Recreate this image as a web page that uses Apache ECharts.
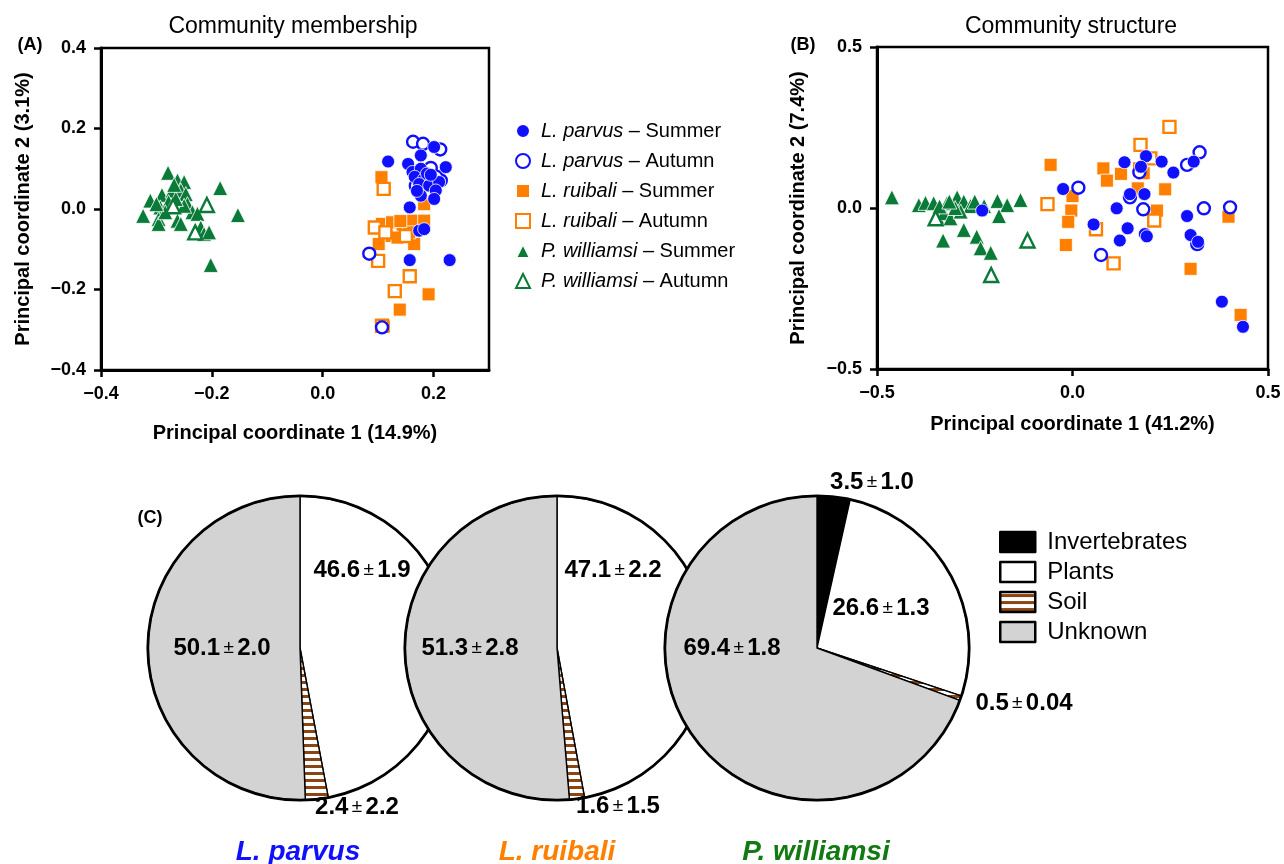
<!DOCTYPE html>
<html><head><meta charset="utf-8">
<script src="https://cdn.jsdelivr.net/npm/echarts@6/dist/echarts.min.js"></script>
<style>html,body{margin:0;padding:0;background:#fff}#c{width:1284px;height:864px}</style>
</head><body><div id="c"></div>
<script>
// ---------- DATA ----------
const seriesNames = ['L. parvus – Summer','L. parvus – Autumn','L. ruibali – Summer','L. ruibali – Autumn','P. williamsi – Summer','P. williamsi – Autumn'];

// Panel A: Community membership (PC1, PC2)
const aParvusSummer = [[0.118,0.118],[0.177,0.133],[0.201,0.154],[0.154,0.112],[0.222,0.104],[0.162,0.092],[0.177,0.100],[0.166,0.080],[0.183,0.075],[0.174,0.062],[0.192,0.058],[0.210,0.067],[0.204,0.046],[0.177,0.033],[0.201,0.025],[0.157,0.004],[0.174,-0.054],[0.183,-0.050],[0.157,-0.127],[0.229,-0.127],[0.188,0.088],[0.170,0.045],[0.195,0.085]];
const aParvusAutumn = [[0.163,0.167],[0.181,0.162],[0.212,0.148],[0.195,0.102],[0.213,0.071],[0.168,0.058],[0.084,-0.111],[0.107,-0.294],[0.205,0.080]];
const aRuibaliSummer = [[0.106,0.079],[0.183,0.012],[0.107,-0.037],[0.125,-0.033],[0.144,-0.046],[0.162,-0.029],[0.183,-0.029],[0.116,-0.067],[0.135,-0.071],[0.101,-0.087],[0.165,-0.087],[0.156,-0.058],[0.191,-0.212],[0.139,-0.250],[0.110,-0.292],[0.140,-0.030]];
const aRuibaliAutumn = [[0.110,0.050],[0.094,-0.046],[0.150,-0.067],[0.100,-0.129],[0.157,-0.167],[0.130,-0.204],[0.107,-0.290],[0.113,-0.058]];
const aWilliamsiSummer = [[-0.279,0.090],[-0.262,0.071],[-0.250,0.067],[-0.185,0.052],[-0.311,0.021],[-0.290,0.035],[-0.271,0.046],[-0.256,0.046],[-0.247,0.037],[-0.324,-0.017],[-0.293,0.004],[-0.296,-0.025],[-0.296,-0.037],[-0.278,0.017],[-0.262,-0.029],[-0.256,-0.037],[-0.244,0.012],[-0.235,-0.008],[-0.226,-0.012],[-0.220,-0.046],[-0.214,-0.062],[-0.205,-0.058],[-0.153,-0.015],[-0.202,-0.139],[-0.284,-0.008],[-0.250,0.008],[-0.265,0.025],[-0.268,0.060],[-0.300,0.012]];
const aWilliamsiAutumn = [[-0.270,0.007],[-0.209,0.010],[-0.230,-0.058]];

// Panel B: Community structure (PC1, PC2)
const bParvusSummer = [[-0.024,0.059],[0.133,0.142],[0.188,0.161],[0.175,0.128],[0.228,0.144],[0.258,0.110],[0.310,0.144],[0.147,0.043],[0.184,0.043],[0.113,-0.001],[0.054,-0.051],[0.141,-0.063],[0.121,-0.101],[0.185,-0.081],[0.190,-0.088],[0.293,-0.025],[0.302,-0.084],[0.321,-0.105],[0.382,-0.291],[0.436,-0.369],[-0.231,-0.008]];
const bParvusAutumn = [[0.015,0.063],[0.147,0.033],[0.171,0.111],[0.293,0.134],[0.325,0.173],[0.181,-0.004],[0.336,-0.001],[0.403,0.002],[0.073,-0.146],[0.319,-0.112]];
const bRuibaliSummer = [[-0.056,0.134],[0.079,0.123],[0.088,0.085],[0.124,0.106],[0.182,0.108],[0.167,0.061],[0.000,0.037],[-0.003,-0.008],[-0.011,-0.043],[-0.017,-0.115],[0.237,0.058],[0.216,-0.008],[0.399,-0.027],[0.302,-0.189],[0.430,-0.332]];
const bRuibaliAutumn = [[0.248,0.252],[0.174,0.196],[0.199,0.154],[-0.064,0.012],[0.060,-0.066],[0.209,-0.039],[0.105,-0.172],[0.173,0.120]];
const bWilliamsiSummer = [[-0.462,0.033],[-0.393,0.009],[-0.376,0.016],[-0.355,0.015],[-0.321,0.015],[-0.295,0.033],[-0.278,0.020],[-0.261,0.006],[-0.226,0.006],[-0.192,0.022],[-0.167,0.009],[-0.133,0.025],[-0.188,-0.025],[-0.346,-0.027],[-0.329,-0.016],[-0.312,-0.032],[-0.286,-0.011],[-0.278,-0.068],[-0.331,-0.101],[-0.245,-0.089],[-0.235,-0.125],[-0.209,-0.139],[-0.340,0.005],[-0.300,0.000],[-0.315,0.020],[-0.250,0.020]];
const bWilliamsiAutumn = [[-0.350,-0.032],[-0.115,-0.101],[-0.208,-0.208]];

// Tick values
const aXTicks = [-0.4,-0.2,0,0.2];
const aYTicks = [-0.4,-0.2,0,0.2,0.4];
const bXTicks = [-0.5,0,0.5];
const bYTicks = [-0.5,0,0.5];

// Panel C: diet composition (%)
const pieCategories = ['Invertebrates','Plants','Soil','Unknown'];
const pieSpecies = ['L. parvus','L. ruibali','P. williamsi'];
const parvusMeans = [0, 46.6, 2.4, 50.1];
const parvusSE = [null, '1.9', '2.2', '2.0'];
const ruibaliMeans = [0, 47.1, 1.6, 51.3];
const ruibaliSE = [null, '2.2', '1.5', '2.8'];
const williamsiMeans = [3.5, 26.6, 0.5, 69.4];
const williamsiSE = ['1.0', '1.3', '0.04', '1.8'];

// ---------- STYLE ----------
const FONT = 'Liberation Sans, Arial, Helvetica, sans-serif';
const NARROW = '"Liberation Sans Narrow", "Liberation Sans", Arial, sans-serif';
const BLUE = '#1010ff', ORANGE = '#ff8000', GREEN = '#0a7a38';

const soilCanvas = document.createElement('canvas');
soilCanvas.width = 12; soilCanvas.height = 7;
(function(){const g = soilCanvas.getContext('2d'); g.fillStyle='#fff'; g.fillRect(0,0,12,7); g.fillStyle='#8b4513'; g.fillRect(0,2,12,3);})();
const pieColors = ['#000000', '#ffffff', {image: soilCanvas, repeat: 'repeat'}, '#d3d3d3'];

const pieCenters = [[300,648],[557,648],[817,648]];
const pieRadius = 152;
const pieLabelPos = [
  [null,[362,570],[357,807],[222,648]],
  [null,[613,570],[618,806],[470,648]],
  [[872,482],[881,608],[1024,703],[732,648]]
];

function fmtTick(v){ return (Math.abs(v)<1e-9 ? '0.0' : v.toFixed(1)).replace('-', '\u2212'); }

function axis(grid, min, max, ticks, name, gap, isX){
  return {
    type:'value', gridIndex:grid, min:min, max:max, name:name, nameLocation:'middle', nameGap:gap,
    nameTextStyle:{fontFamily:FONT, fontWeight:'bold', fontSize:20, color:'#000'},
    axisLine:{show:true, onZero:false, lineStyle:{color:'#000', width:3}},
    axisTick:{show:true, length:7, lineStyle:{color:'#000', width:2.5}, customValues:ticks},
    axisLabel:{show:true, margin:15, fontFamily:FONT, fontWeight:'bold', fontSize:18, color:'#000', customValues:ticks, formatter:fmtTick},
    splitLine:{show:false}
  };
}

function scatter(name, data, grid, symbol, color, filled, size){
  return {
    type:'scatter', name:name, xAxisIndex:grid, yAxisIndex:grid, data:data, symbol:symbol, symbolSize:size,
    itemStyle: filled ? {color:color, opacity:1, borderColor:'#fff', borderWidth:0.8} : {color:'#fff', opacity:1, borderColor:color, borderWidth:2.4},
    emphasis:{disabled:true}, animation:false
  };
}

function panelSeries(grid, ps, pa, rs, ra, ws, wa){
  return [
    scatter(seriesNames[4], ws, grid, 'triangle', GREEN, true, 15),
    scatter(seriesNames[5], wa, grid, 'triangle', GREEN, false, 14),
    scatter(seriesNames[2], rs, grid, 'rect', ORANGE, true, 13),
    scatter(seriesNames[3], ra, grid, 'rect', ORANGE, false, 12),
    scatter(seriesNames[1], pa, grid, 'circle', BLUE, false, 12),
    scatter(seriesNames[0], ps, grid, 'circle', BLUE, true, 13)
  ];
}

// layer order of the three pies (higher layer covers the lower one)
const pieLayer = [1, 2, 3];

function pieSeries(k, means, se){
  const pos = pieLabelPos[k];
  return [{
    type:'pie', zlevel: pieLayer[k], z: 2, center:pieCenters[k], radius:[0,pieRadius], startAngle:90, clockwise:true,
    silent:true, animation:false, avoidLabelOverlap:false, emphasis:{disabled:true},
    itemStyle:{borderColor:'#000', borderWidth:1.4},
    data: pieCategories.map((n,i)=>({name:n, value:means[i], itemStyle:{color:pieColors[i]}, label:{show: se[i]!==null}})),
    label:{position:'inside', color:'#000',
      formatter: p => '{n|' + means[p.dataIndex].toFixed(1) + '} {pm|\u00b1} {n|' + se[p.dataIndex] + '}',
      rich:{n:{fontFamily:NARROW, fontWeight:'bold', fontSize:24, color:'#000'}, pm:{fontFamily:FONT, fontSize:19, color:'#000'}}},
    labelLine:{show:false},
    labelLayout: p => { const q = pos[p.dataIndex]; return q ? {x:q[0], y:q[1], align:'center', verticalAlign:'middle'} : {}; }
  },{
    type:'pie', zlevel: pieLayer[k], z: 3, center:pieCenters[k], radius:[pieRadius-1.2, pieRadius+1.6], silent:true, animation:false,
    data:[{name:'_ring', value:1, itemStyle:{color:'#000'}}], label:{show:false}, labelLine:{show:false},
    itemStyle:{borderWidth:0}, emphasis:{disabled:true}
  }];
}

function txt(x, y, s, font, fill, align){
  return {type:'text', x:x, y:y, silent:true, z:100, style:{text:s, font:font, fill:fill||'#000', align:align||'center', verticalAlign:'middle'}};
}

const option = {
  backgroundColor:'#fff',
  animation:false,
  grid:[
    {left:101, top:48, width:388, height:322, show:true, borderColor:'#000', borderWidth:2.5, containLabel:false},
    {left:877, top:47, width:391, height:322, show:true, borderColor:'#000', borderWidth:2.5, containLabel:false}
  ],
  xAxis:[
    axis(0, -0.4, 0.3, aXTicks, 'Principal coordinate 1 (14.9%)', 53, true),
    axis(1, -0.5, 0.5, bXTicks, 'Principal coordinate 1 (41.2%)', 45, true)
  ],
  yAxis:[
    axis(0, -0.4, 0.4, aYTicks, 'Principal coordinate 2 (3.1%)', 68, false),
    axis(1, -0.5, 0.5, bYTicks, 'Principal coordinate 2 (7.4%)', 69, false)
  ],
  legend:[{
    data:seriesNames, orient:'vertical', left:510, top:115, itemWidth:14, itemHeight:14, itemGap:8,
    selectedMode:false,
    textStyle:{fontFamily:FONT, fontSize:20, color:'#000', lineHeight:22, padding:[0,0,0,6], rich:{i:{fontFamily:FONT, fontSize:20, fontStyle:'italic', color:'#000'}}},
    formatter: n => { const s = n.split(' \u2013 '); return '{i|' + s[0] + '} \u2013 ' + s[1]; }
  },{
    data:pieCategories, orient:'vertical', left:994, top:525, itemWidth:35, itemHeight:20, itemGap:6,
    selectedMode:false, icon:'rect',
    itemStyle:{borderColor:'#000', borderWidth:2.5},
    textStyle:{fontFamily:FONT, fontSize:24, color:'#000', lineHeight:20, padding:[0,0,0,7]}
  }],
  series: [].concat(
    panelSeries(0, aParvusSummer, aParvusAutumn, aRuibaliSummer, aRuibaliAutumn, aWilliamsiSummer, aWilliamsiAutumn),
    panelSeries(1, bParvusSummer, bParvusAutumn, bRuibaliSummer, bRuibaliAutumn, bWilliamsiSummer, bWilliamsiAutumn),
    pieSeries(0, parvusMeans, parvusSE),
    pieSeries(1, ruibaliMeans, ruibaliSE),
    pieSeries(2, williamsiMeans, williamsiSE)
  ),
  graphic:[
    txt(30, 45, '(A)', 'bold 18px ' + FONT),
    txt(293, 27, 'Community membership', '23px ' + FONT),
    txt(803, 45, '(B)', 'bold 18px ' + FONT),
    txt(1071, 27, 'Community structure', '23px ' + FONT),
    txt(150, 518, '(C)', 'bold 18px ' + FONT),
    txt(298, 852, pieSpecies[0], 'italic bold 28px ' + NARROW, BLUE),
    txt(557, 852, pieSpecies[1], 'italic bold 28px ' + NARROW, ORANGE),
    txt(816, 852, pieSpecies[2], 'italic bold 28px ' + NARROW, '#127a12')
  ]
};

const chart = echarts.init(document.getElementById('c'), null, {renderer:'canvas'});
chart.setOption(option);
</script></body></html>
